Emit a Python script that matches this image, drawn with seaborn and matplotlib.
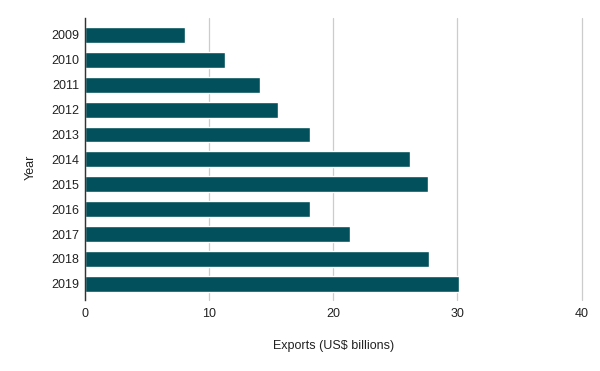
import matplotlib
matplotlib.use("Agg")
import matplotlib.pyplot as plt
import seaborn as sns
import pandas as pd

# data
years = ["2009", "2010", "2011", "2012", "2013", "2014",
         "2015", "2016", "2017", "2018", "2019"]
exports = [8.1, 11.3, 14.1, 15.6, 18.1, 26.2, 27.6, 18.1, 21.35, 27.7, 30.1]

df = pd.DataFrame({"Year": years, "Exports": exports})

sns.set_theme(style="white")
plt.rcParams["font.family"] = ["Liberation Sans", "DejaVu Sans"]

fig = plt.figure(figsize=(6, 3.71), dpi=100)
ax = fig.add_axes([0.141, 0.1914, 0.8285, 0.7601])

sns.barplot(data=df, y="Year", x="Exports", orient="h", color="#01505b",
            saturation=1, width=0.64, ax=ax)

ax.set_xlim(0, 40)
ax.set_ylim(10.65, -0.68)
ax.set_xticks([0, 10, 20, 30, 40])
ax.xaxis.grid(True, color="#cccccc", linewidth=0.9)
for gl in ax.get_xgridlines():
    gl.set_clip_on(False)
ax.set_axisbelow(True)
for s in ["top", "right", "bottom"]:
    ax.spines[s].set_visible(False)
ax.spines["left"].set_color("#333333")
ax.spines["left"].set_linewidth(1)
ax.spines["left"].set_zorder(3)
ax.tick_params(axis="both", length=0, labelsize=9, colors="#222222")
ax.tick_params(axis="y", pad=4)
ax.tick_params(axis="x", pad=6)
ax.set_xlabel("Exports (US$ billions)", fontsize=9, color="#222222", labelpad=14)
ax.set_ylabel("Year", fontsize=9, color="#222222")
ax.yaxis.set_label_coords(-0.097, 0.472)

fig.savefig("out.png", dpi=100)
